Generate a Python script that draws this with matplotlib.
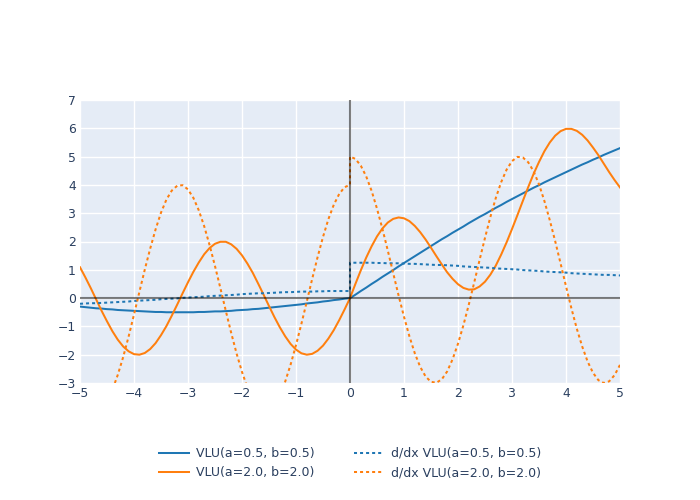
import matplotlib.pyplot as plt

plt.rcParams['font.family'] = ['DejaVu Sans']

# x samples, 0 appears twice so the derivative jump at the origin is kept
x = [-5.0, -4.9, -4.8, -4.7, -4.6, -4.5, -4.4, -4.3, -4.2, -4.1,
     -4.0, -3.9, -3.8, -3.7, -3.6, -3.5, -3.4, -3.3, -3.2, -3.1,
     -3.0, -2.9, -2.8, -2.7, -2.6, -2.5, -2.4, -2.3, -2.2, -2.1,
     -2.0, -1.9, -1.8, -1.7, -1.6, -1.5, -1.4, -1.3, -1.2, -1.1,
     -1.0, -0.9, -0.8, -0.7, -0.6, -0.5, -0.4, -0.3, -0.2, -0.1, 0.0,
     0.0, 0.1, 0.2, 0.3, 0.4, 0.5, 0.6, 0.7, 0.8, 0.9,
     1.0, 1.1, 1.2, 1.3, 1.4, 1.5, 1.6, 1.7, 1.8, 1.9,
     2.0, 2.1, 2.2, 2.3, 2.4, 2.5, 2.6, 2.7, 2.8, 2.9,
     3.0, 3.1, 3.2, 3.3, 3.4, 3.5, 3.6, 3.7, 3.8, 3.9,
     4.0, 4.1, 4.2, 4.3, 4.4, 4.5, 4.6, 4.7, 4.8, 4.9, 5.0]

vlu_small = [-0.30, -0.32, -0.34, -0.36, -0.37, -0.39, -0.40, -0.42, -0.43, -0.44,
             -0.45, -0.46, -0.47, -0.48, -0.49, -0.49, -0.50, -0.50, -0.50, -0.50,
             -0.50, -0.50, -0.49, -0.49, -0.48, -0.47, -0.47, -0.46, -0.45, -0.43,
             -0.42, -0.41, -0.39, -0.38, -0.36, -0.34, -0.32, -0.30, -0.28, -0.26,
             -0.24, -0.22, -0.19, -0.17, -0.15, -0.12, -0.10, -0.07, -0.05, -0.02, 0.00,
             0.00, 0.12, 0.25, 0.37, 0.50, 0.62, 0.75, 0.87, 0.99, 1.12,
             1.24, 1.36, 1.48, 1.60, 1.72, 1.84, 1.96, 2.08, 2.19, 2.31,
             2.42, 2.53, 2.65, 2.76, 2.87, 2.97, 3.08, 3.19, 3.29, 3.40,
             3.50, 3.60, 3.70, 3.80, 3.90, 3.99, 4.09, 4.18, 4.27, 4.36,
             4.45, 4.54, 4.63, 4.72, 4.80, 4.89, 4.97, 5.06, 5.14, 5.22, 5.30]

vlu_big = [1.09, 0.73, 0.35, -0.05, -0.45, -0.82, -1.17, -1.47, -1.71, -1.88,
           -1.98, -2.00, -1.94, -1.80, -1.59, -1.31, -0.99, -0.62, -0.23, 0.17,
           0.56, 0.93, 1.26, 1.55, 1.77, 1.92, 1.99, 1.99, 1.90, 1.74,
           1.51, 1.22, 0.89, 0.51, 0.12, -0.28, -0.67, -1.03, -1.35, -1.62,
           -1.82, -1.95, -2.00, -1.97, -1.86, -1.68, -1.43, -1.13, -0.78, -0.40, 0.00,
           0.00, 0.50, 0.98, 1.43, 1.83, 2.18, 2.46, 2.67, 2.80, 2.85,
           2.82, 2.72, 2.55, 2.33, 2.07, 1.78, 1.48, 1.19, 0.91, 0.68,
           0.49, 0.36, 0.30, 0.31, 0.41, 0.58, 0.83, 1.15, 1.54, 1.97,
           2.44, 2.93, 3.43, 3.92, 4.39, 4.81, 5.19, 5.50, 5.74, 5.90,
           5.98, 5.98, 5.91, 5.77, 5.57, 5.32, 5.05, 4.75, 4.45, 4.17, 3.91]

dvlu_small = [-0.20, -0.19, -0.18, -0.18, -0.17, -0.16, -0.15, -0.14, -0.13, -0.12,
              -0.10, -0.09, -0.08, -0.07, -0.06, -0.04, -0.03, -0.02, -0.01, 0.01,
              0.02, 0.03, 0.04, 0.05, 0.07, 0.08, 0.09, 0.10, 0.11, 0.12,
              0.14, 0.15, 0.16, 0.17, 0.17, 0.18, 0.19, 0.20, 0.21, 0.21,
              0.22, 0.23, 0.23, 0.23, 0.24, 0.24, 0.25, 0.25, 0.25, 0.25, 0.25,
              1.25, 1.25, 1.25, 1.25, 1.25, 1.24, 1.24, 1.23, 1.23, 1.23,
              1.22, 1.21, 1.21, 1.20, 1.19, 1.18, 1.17, 1.17, 1.16, 1.15,
              1.14, 1.12, 1.11, 1.10, 1.09, 1.08, 1.07, 1.05, 1.04, 1.03,
              1.02, 1.01, 0.99, 0.98, 0.97, 0.96, 0.94, 0.93, 0.92, 0.91,
              0.90, 0.88, 0.87, 0.86, 0.85, 0.84, 0.83, 0.82, 0.82, 0.81, 0.80]

dvlu_big = [-3.36, -3.72, -3.94, -4.00, -3.90, -3.64, -3.24, -2.71, -2.08, -1.36,
            -0.58, 0.22, 1.01, 1.75, 2.43, 3.02, 3.48, 3.80, 3.97, 3.99,
            3.84, 3.54, 3.10, 2.54, 1.87, 1.13, 0.35, -0.45, -1.23, -1.96,
            -2.61, -3.16, -3.59, -3.87, -3.99, -3.96, -3.77, -3.43, -2.95, -2.35,
            -1.66, -0.91, -0.12, 0.68, 1.45, 2.16, 2.79, 3.30, 3.68, 3.92, 4.00,
            5.00, 4.92, 4.68, 4.30, 3.79, 3.16, 2.45, 1.68, 0.88, 0.09,
            -0.66, -1.35, -1.95, -2.43, -2.77, -2.96, -2.99, -2.87, -2.59, -2.16,
            -1.61, -0.96, -0.23, 0.55, 1.35, 2.13, 2.87, 3.54, 4.10, 4.54,
            4.84, 4.99, 4.97, 4.80, 4.48, 4.02, 3.43, 2.75, 2.01, 1.22,
            0.42, -0.36, -1.08, -1.71, -2.24, -2.64, -2.90, -3.00, -2.94, -2.72, -2.36]

labels = ["VLU(a=0.5, b=0.5)", "VLU(a=2.0, b=2.0)",
          "d/dx VLU(a=0.5, b=0.5)", "d/dx VLU(a=2.0, b=2.0)"]
xticks = [-5, -4, -3, -2, -1, 0, 1, 2, 3, 4, 5]
yticks = [-3, -2, -1, 0, 1, 2, 3, 4, 5, 6, 7]

blue = "#1f77b4"
orange = "#ff7f0e"
text_col = "#2a3f5f"
dot = (0, (1.5, 1.5))

fig = plt.figure(figsize=(7, 5), dpi=100)
ax = fig.add_axes([80 / 700, 117 / 500, 540 / 700, 283 / 500])
ax.set_facecolor("#E5ECF6")
for s in ax.spines.values():
    s.set_visible(False)

ax.plot(x, vlu_small, color=blue, lw=1.45, label=labels[0])
ax.plot(x, vlu_big, color=orange, lw=1.45, label=labels[1])
ax.plot(x, dvlu_small, color=blue, lw=1.45, ls=dot, label=labels[2])
ax.plot(x, dvlu_big, color=orange, lw=1.45, ls=dot, label=labels[3])

# reference lines through the origin, drawn on top
ax.axhline(0, color="black", alpha=0.5, lw=1.5, zorder=5)
ax.axvline(0, color="black", alpha=0.5, lw=1.5, zorder=5)

ax.set_xlim(-5, 5)
ax.set_ylim(-3, 7)
ax.set_xticks(xticks)
ax.set_yticks(yticks)
ax.set_xticklabels([str(t).replace("-", "\u2212") for t in xticks])
ax.set_yticklabels([str(t).replace("-", "\u2212") for t in yticks])
ax.grid(True, color="white", lw=1)
ax.set_axisbelow(True)
ax.tick_params(length=0, labelsize=8.9, colors=text_col, pad=3)

fig.legend(loc="center", bbox_to_anchor=(0.5, 37 / 500), ncol=2, frameon=False,
           fontsize=9, labelcolor=text_col, handlelength=2.4, handletextpad=0.55,
           columnspacing=3.2, labelspacing=0.5)

fig.savefig("out.png", dpi=100)
